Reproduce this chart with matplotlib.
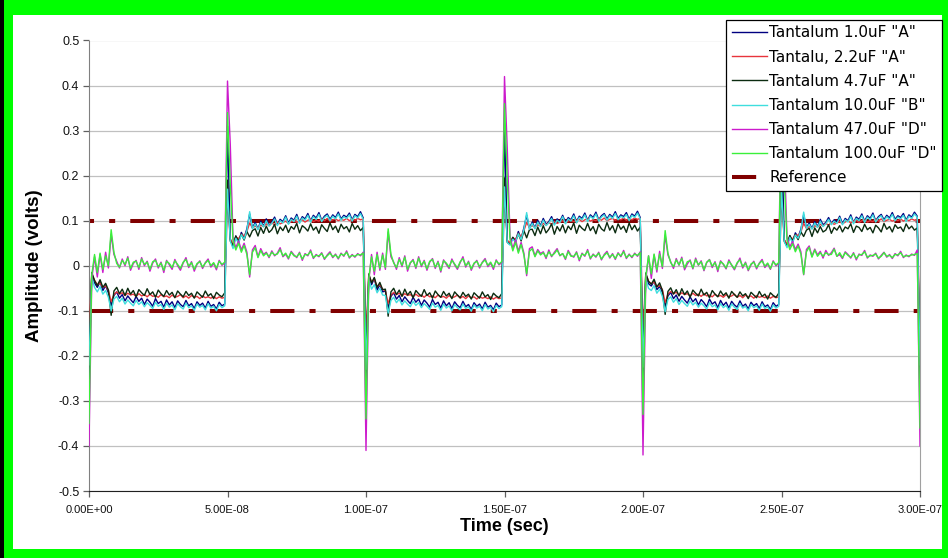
import numpy as np
import matplotlib

matplotlib.use('Agg')

import matplotlib.pyplot as plt
from matplotlib.patches import Rectangle
from matplotlib.ticker import FuncFormatter, MultipleLocator

plt.rcParams['font.family'] = ['Liberation Sans', 'DejaVu Sans']

# scope capture, 1 ns per sample, values in mV
sample_step = 1e-9

tant_1u0_A = [
    -250, -20, -38, -48, -36, -55, -44, -60, -88, -66,
    -58, -72, -64, -78, -67, -75, -82, -68, -79, -72,
    -86, -74, -81, -90, -73, -84, -79, -92, -76, -87,
    -80, -93, -78, -86, -91, -77, -89, -84, -95, -80,
    -88, -83, -94, -79, -90, -86, -96, -81, -89, -85,
    310, 60, 42, 66, 52, 74, 62, 82, 115, 84,
    96, 82, 99, 88, 104, 90, 97, 108, 92, 103,
    98, 111, 95, 106, 101, 114, 97, 109, 104, 116,
    100, 112, 106, 118, 101, 110, 115, 103, 113, 107,
    119, 104, 112, 108, 117, 102, 114, 109, 120, 106,
    -260, -25, -42, -28, -54, -42, -58, -56, -95, -68,
    -60, -74, -66, -80, -69, -77, -84, -70, -81, -74,
    -88, -76, -83, -92, -75, -86, -81, -94, -78, -89,
    -82, -95, -80, -88, -93, -79, -91, -86, -97, -82,
    -90, -85, -96, -81, -92, -88, -98, -83, -91, -87,
    315, 55, 48, 63, 56, 76, 60, 84, 112, 83,
    97, 84, 101, 89, 105, 92, 98, 109, 93, 104,
    99, 112, 96, 107, 102, 115, 98, 110, 105, 117,
    101, 113, 107, 119, 102, 111, 116, 104, 114, 108,
    120, 105, 113, 109, 118, 103, 115, 110, 121, 107,
    -255, -22, -40, -45, -34, -53, -46, -59, -90, -67,
    -59, -73, -65, -79, -68, -76, -83, -69, -80, -73,
    -87, -75, -82, -91, -74, -85, -80, -93, -77, -88,
    -81, -94, -79, -87, -92, -78, -90, -85, -96, -81,
    -89, -84, -95, -80, -91, -87, -97, -82, -90, -86,
    305, 58, 45, 67, 53, 73, 64, 81, 113, 85,
    95, 83, 98, 87, 103, 91, 96, 107, 94, 102,
    97, 110, 94, 105, 100, 113, 96, 108, 103, 115,
    99, 111, 105, 117, 100, 109, 114, 102, 112, 106,
    118, 103, 111, 107, 116, 101, 113, 108, 119, 110,
    -250,
]

tant_2u2_A = [
    -150, -18, -32, -42, -38, -48, -45, -54, -80, -64,
    -58, -63, -60, -66, -61, -65, -63, -68, -62, -67,
    -64, -69, -63, -68, -66, -70, -64, -69, -67, -71,
    -65, -70, -68, -64, -71, -67, -72, -66, -70, -68,
    -73, -67, -71, -69, -72, -68, -73, -69, -72, -70,
    150, 58, 50, 64, 60, 70, 66, 76, 95, 84,
    88, 84, 90, 87, 93, 89, 95, 91, 97, 93,
    96, 99, 94, 98, 101, 96, 100, 102, 97, 101,
    103, 98, 101, 99, 104, 100, 105, 99, 102, 104,
    100, 103, 101, 105, 100, 104, 101, 105, 102, 104,
    -155, -20, -36, -30, -46, -42, -52, -56, -84, -65,
    -59, -64, -61, -67, -62, -66, -64, -69, -63, -68,
    -65, -70, -64, -69, -67, -71, -65, -70, -68, -72,
    -66, -71, -69, -65, -72, -68, -73, -67, -71, -69,
    -74, -68, -72, -70, -73, -69, -74, -70, -73, -71,
    160, 56, 52, 62, 58, 72, 64, 78, 96, 85,
    89, 85, 91, 88, 94, 90, 96, 92, 98, 94,
    97, 100, 95, 99, 102, 97, 101, 103, 98, 102,
    104, 99, 102, 100, 105, 101, 106, 100, 103, 105,
    101, 104, 102, 106, 101, 105, 102, 106, 103, 105,
    -152, -19, -34, -40, -36, -47, -44, -53, -82, -63,
    -57, -62, -59, -65, -60, -64, -62, -67, -61, -66,
    -63, -68, -62, -67, -65, -69, -63, -68, -66, -70,
    -64, -69, -67, -63, -70, -66, -71, -65, -69, -67,
    -72, -66, -70, -68, -71, -67, -72, -68, -71, -69,
    155, 57, 49, 65, 59, 69, 67, 75, 94, 83,
    87, 83, 89, 86, 92, 88, 94, 90, 96, 92,
    95, 98, 93, 97, 100, 95, 99, 101, 96, 100,
    102, 97, 100, 98, 103, 99, 104, 98, 101, 103,
    99, 102, 100, 104, 99, 103, 100, 104, 101, 103,
    -150,
]

tant_4u7_A = [
    -190, -15, -33, -44, -31, -48, -39, -54, -110, -56,
    -48, -62, -52, -66, -50, -63, -55, -69, -53, -60,
    -66, -51, -64, -58, -70, -54, -62, -68, -55, -65,
    -59, -71, -56, -63, -69, -57, -66, -61, -72, -58,
    -64, -70, -56, -67, -62, -73, -59, -65, -69, -60,
    190, 55, 45, 66, 54, 70, 57, 76, 64, 78,
    82, 66, 85, 72, 88, 74, 80, 92, 71, 86,
    78, 90, 74, 87, 81, 94, 73, 89, 84, 77,
    93, 79, 86, 72, 91, 83, 76, 95, 80, 88,
    74, 92, 82, 87, 75, 94, 81, 89, 78, 85,
    -200, -18, -38, -26, -48, -37, -53, -52, -112, -58,
    -50, -64, -54, -68, -52, -65, -57, -71, -55, -62,
    -68, -53, -66, -60, -72, -56, -64, -70, -57, -67,
    -61, -73, -58, -65, -71, -59, -68, -63, -74, -60,
    -66, -72, -58, -69, -64, -75, -61, -67, -71, -62,
    195, 52, 47, 63, 53, 71, 55, 78, 62, 80,
    81, 67, 86, 71, 89, 73, 81, 93, 70, 87,
    77, 91, 73, 88, 80, 95, 72, 90, 83, 78,
    94, 78, 87, 71, 92, 82, 77, 96, 79, 89,
    73, 93, 81, 88, 74, 95, 80, 90, 77, 86,
    -195, -16, -35, -41, -30, -47, -38, -55, -108, -57,
    -49, -63, -53, -67, -51, -64, -56, -70, -54, -61,
    -67, -52, -65, -59, -71, -55, -63, -69, -56, -66,
    -60, -72, -57, -64, -70, -58, -67, -62, -73, -59,
    -65, -71, -57, -68, -63, -74, -60, -66, -70, -61,
    192, 54, 43, 67, 55, 69, 58, 75, 65, 79,
    83, 65, 84, 73, 87, 75, 79, 91, 72, 85,
    79, 89, 75, 86, 82, 93, 74, 88, 85, 76,
    92, 80, 85, 73, 90, 84, 75, 94, 81, 87,
    75, 91, 83, 86, 76, 93, 82, 88, 79, 84,
    -195,
]

tant_10u_B = [
    -220, -25, -48, -58, -46, -63, -55, -70, -100, -74,
    -68, -80, -72, -85, -76, -83, -89, -77, -86, -80,
    -91, -82, -88, -95, -81, -90, -86, -97, -83, -92,
    -87, -98, -84, -91, -96, -83, -93, -89, -99, -85,
    -92, -88, -98, -84, -94, -90, -100, -86, -93, -89,
    170, 55, 38, 61, 50, 69, 59, 78, 120, 82,
    93, 80, 96, 86, 100, 88, 94, 104, 89, 100,
    95, 108, 92, 103, 98, 110, 94, 106, 101, 112,
    97, 109, 103, 114, 98, 107, 112, 100, 110, 104,
    115, 101, 109, 105, 113, 99, 111, 106, 116, 103,
    -230, -30, -52, -42, -60, -50, -65, -66, -105, -77,
    -70, -82, -74, -87, -78, -85, -91, -79, -88, -82,
    -93, -84, -90, -97, -83, -92, -88, -99, -85, -94,
    -89, -100, -86, -93, -98, -85, -95, -91, -101, -87,
    -94, -90, -100, -86, -96, -92, -102, -88, -95, -91,
    175, 52, 46, 59, 53, 71, 58, 80, 118, 81,
    94, 82, 97, 87, 101, 89, 95, 105, 90, 101,
    96, 109, 93, 104, 99, 111, 95, 107, 102, 113,
    98, 110, 104, 115, 99, 108, 113, 101, 111, 105,
    116, 102, 110, 106, 114, 100, 112, 107, 117, 104,
    -225, -28, -50, -55, -44, -61, -52, -68, -102, -75,
    -69, -81, -73, -86, -77, -84, -90, -78, -87, -81,
    -92, -83, -89, -96, -82, -91, -87, -98, -84, -93,
    -88, -99, -85, -92, -97, -84, -94, -90, -100, -86,
    -93, -89, -99, -85, -95, -91, -101, -87, -94, -90,
    172, 54, 40, 63, 51, 68, 61, 77, 119, 83,
    92, 81, 95, 85, 99, 87, 93, 103, 91, 99,
    94, 107, 91, 102, 97, 109, 93, 105, 100, 111,
    96, 108, 102, 113, 97, 106, 111, 99, 109, 103,
    114, 100, 108, 104, 112, 98, 110, 105, 115, 108,
    -220,
]

tant_47u_D = [
    -400, -30, 20, -25, 25, -15, 30, -5, 70, 25,
    10, -5, 15, 0, 20, -10, 5, 12, -8, 18,
    0, 10, -12, 6, 15, -5, 8, -15, 12, 2,
    -8, 14, 0, -10, 6, 18, -4, 9, -12, 3,
    11, -6, 7, 15, -3, 5, -9, 12, 1, 6,
    410, 270, 60, 40, 55, 35, 50, 30, -25, 35,
    45, 20, 38, 25, 30, 18, 33, 22, 28, 40,
    20, 26, 15, 32, 24, 18, 30, 12, 27, 22,
    35, 16, 25, 20, 29, 14, 24, 31, 18, 26,
    15, 28, 21, 33, 17, 25, 19, 27, 22, 30,
    -410, -35, 25, -20, 30, -10, 28, -8, 75, 20,
    8, -8, 18, -2, 22, -12, 6, 14, -6, 20,
    -2, 12, -10, 8, 16, -6, 10, -14, 13, 3,
    -6, 15, 2, -8, 7, 20, -3, 10, -10, 4,
    12, -5, 8, 16, -2, 6, -8, 13, 2, 7,
    420, 260, 65, 38, 58, 32, 52, 28, -22, 38,
    42, 22, 36, 27, 31, 16, 35, 20, 30, 38,
    22, 27, 14, 34, 23, 19, 31, 11, 28, 21,
    36, 15, 26, 19, 30, 13, 25, 32, 17, 27,
    14, 29, 20, 34, 16, 26, 18, 28, 21, 31,
    -420, -32, 22, -28, 24, -14, 32, -6, 68, 24,
    9, -6, 16, 1, 19, -9, 4, 13, -7, 17,
    1, 11, -11, 7, 14, -4, 9, -13, 11, 3,
    -7, 13, 1, -9, 5, 17, -5, 8, -11, 2,
    10, -7, 6, 14, -4, 4, -8, 11, 0, 5,
    405, 250, 62, 42, 54, 36, 48, 31, -20, 36,
    44, 21, 37, 24, 32, 17, 34, 23, 29, 39,
    21, 25, 16, 31, 25, 17, 29, 13, 26, 23,
    34, 17, 24, 21, 28, 15, 23, 30, 19, 25,
    16, 27, 22, 32, 18, 24, 20, 26, 23, 35,
    -400,
]

tant_100u_D = [
    -350, -20, 25, -15, 28, -8, 22, 0, 80, 30,
    5, -3, 12, 3, 17, -6, 8, 10, -4, 15,
    3, 8, -8, 9, 12, -2, 6, -10, 10, 5,
    -4, 11, 3, -6, 8, 14, -1, 7, -8, 5,
    9, -3, 6, 12, 0, 7, -5, 10, 3, 8,
    340, 180, 55, 35, 50, 30, 45, 25, -20, 30,
    40, 18, 34, 22, 28, 20, 30, 24, 26, 36,
    22, 28, 17, 30, 22, 20, 28, 15, 25, 24,
    32, 18, 23, 22, 27, 16, 22, 28, 20, 24,
    17, 26, 23, 30, 19, 23, 21, 25, 24, 28,
    -340, -28, 20, -12, 25, -6, 24, -4, 82, 26,
    6, -4, 14, 1, 19, -8, 7, 12, -3, 17,
    1, 10, -7, 10, 14, -3, 8, -11, 11, 6,
    -3, 12, 4, -5, 9, 16, 0, 8, -7, 6,
    10, -2, 7, 13, 1, 8, -4, 11, 4, 9,
    360, 190, 58, 33, 52, 28, 47, 24, -18, 32,
    38, 20, 33, 24, 29, 19, 31, 22, 27, 35,
    23, 27, 16, 31, 21, 21, 29, 14, 26, 23,
    33, 17, 24, 21, 28, 15, 23, 29, 19, 25,
    16, 27, 22, 31, 18, 24, 20, 26, 23, 29,
    -330, -24, 22, -18, 26, -9, 26, -2, 78, 28,
    7, -2, 13, 2, 16, -5, 9, 11, -5, 14,
    2, 9, -9, 8, 13, -1, 7, -9, 9, 4,
    -5, 10, 2, -7, 7, 13, -2, 6, -9, 4,
    8, -4, 5, 11, -1, 6, -6, 9, 2, 7,
    350, 185, 56, 36, 49, 31, 44, 26, -19, 31,
    41, 19, 35, 21, 29, 21, 29, 25, 25, 37,
    21, 29, 18, 29, 23, 19, 27, 16, 24, 25,
    31, 19, 22, 23, 26, 17, 21, 29, 21, 23,
    18, 25, 24, 29, 20, 22, 22, 24, 25, 27,
    -360,
]

series_labels = ['Tantalum 1.0uF "A"', 'Tantalu, 2.2uF "A"', 'Tantalum 4.7uF "A"',
                 'Tantalum 10.0uF "B"', 'Tantalum 47.0uF "D"', 'Tantalum 100.0uF "D"']
series_colors = ['#000080', '#e8343c', '#0b2b10', '#3fdede', '#cc1acc', '#3af03a']
series_data = [tant_1u0_A, tant_2u2_A, tant_4u7_A, tant_10u_B, tant_47u_D, tant_100u_D]

ref_levels = [0.1, -0.1]

t = np.arange(len(tant_1u0_A)) * sample_step

fig = plt.figure(figsize=(9.48, 5.58), dpi=100, facecolor='#00ff00')
# frame: black strip on the far left, white panel inside the green border
fig.add_artist(Rectangle((0, 0), 4 / 948, 1, transform=fig.transFigure,
                         facecolor='black', edgecolor='none', zorder=-10))
fig.add_artist(Rectangle((13 / 948, 1 - 549 / 558), 929 / 948, 534 / 558,
                         transform=fig.transFigure, facecolor='white', edgecolor='none',
                         zorder=-10))

ax = fig.add_axes([89 / 948, 1 - 491 / 558, 831 / 948, 450.5 / 558])
ax.set_facecolor('white')

for vals, lab, col in zip(series_data, series_labels, series_colors):
    ax.plot(t, np.array(vals) / 1000.0, color=col, lw=1.0, label=lab, zorder=3)

# reference limits, dash-dot; the upper one starts part-way into the pattern
ref_lines = []
for lvl, off in zip(ref_levels, [4.75, 0.0]):
    ln, = ax.plot([t[0], t[-1]], [lvl, lvl], color='#800000', lw=2.9,
                  linestyle=(off, (6, 3.75, 1.5, 3.75)), dash_capstyle='butt', zorder=2)
    ref_lines.append(ln)

ax.set_xlim(0, 3e-7)
ax.set_ylim(-0.5, 0.5)
ax.xaxis.set_major_locator(MultipleLocator(5e-8))
ax.yaxis.set_major_locator(MultipleLocator(0.1))
ax.xaxis.set_major_formatter(FuncFormatter(lambda v, p: '%.2E' % v))
ax.yaxis.set_major_formatter(FuncFormatter(lambda v, p: '0' if abs(v) < 1e-9 else '%g' % round(v, 1)))

ax.grid(axis='y', color='#c0c0c0', lw=0.9)
ax.set_axisbelow(True)
ax.spines['top'].set_visible(False)
ax.spines['left'].set_color('#808080')
ax.spines['right'].set_color('#a0a0a0')
ax.spines['bottom'].set_color('#202020')
ax.tick_params(axis='both', direction='out', length=4, width=0.9, color='#606060',
               labelcolor='#111111')
ax.tick_params(axis='x', pad=6, labelsize=8)
ax.tick_params(axis='y', pad=3, labelsize=9)

ax.set_xlabel('Time (sec)', fontsize=13, fontweight='bold')
ax.set_ylabel('Amplitude (volts)', fontsize=13.5, fontweight='bold')
ax.xaxis.set_label_coords(0.5, -0.06)
ax.yaxis.set_label_coords(-0.055, 0.5)

handles = ax.get_lines()[:6] + [ref_lines[1]]
labels = series_labels + ['Reference']
leg = ax.legend(handles, labels, loc='upper right', bbox_to_anchor=(942 / 948, 1 - 20 / 558),
                bbox_transform=fig.transFigure, prop={'family': 'DejaVu Sans', 'size': 11},
                handlelength=2.3, handletextpad=0.15, labelspacing=0.6, borderpad=0.35,
                borderaxespad=0, frameon=True, fancybox=False, framealpha=1,
                edgecolor='black')
leg.get_frame().set_linewidth(0.9)
leg.set_zorder(5)

fig.savefig('out.png', dpi=100, facecolor=fig.get_facecolor())
